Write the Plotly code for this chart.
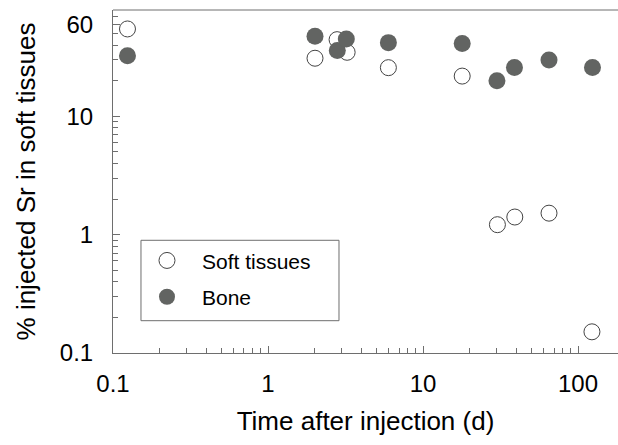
import plotly.graph_objects as go

soft_x = [0.124, 2.01, 2.79, 3.24, 5.98, 17.9, 30.2, 39.1, 65, 123]
soft_y = [54.8, 31, 44.5, 34.8, 25.8, 21.9, 1.215, 1.41, 1.52, 0.151]
bone_x = [0.124, 2.01, 2.8, 3.2, 5.98, 17.9, 30.0, 38.9, 65, 124]
bone_y = [32.6, 47.5, 36.1, 45.1, 42, 41.2, 20, 25.9, 30, 25.9]

x_major = [0.1, 1, 10, 100]
x_major_text = ["0.1", "1", "10", "100"]
y_major = [0.1, 1, 10, 60]
y_major_text = ["0.1", "1", "10", "60"]
x_minor = [m * d for d in [0.1, 1, 10, 100] for m in range(2, 10)]
y_minor = [m * d for d in [0.1, 1, 10] for m in range(2, 10) if m * d < 75]

FONT = "Liberation Sans, Arial, sans-serif"
AX = "#6e6e6e"

fig = go.Figure()
fig.add_trace(go.Scatter(
    x=soft_x, y=soft_y, mode="markers", name="Soft tissues", legendgroup="a",
    marker=dict(symbol="circle", size=16, color="white",
                line=dict(color="#444444", width=1)),
))
fig.add_trace(go.Scatter(
    x=bone_x, y=bone_y, mode="markers", name="Bone", legendgroup="b",
    marker=dict(symbol="circle", size=17, color="#626462",
                line=dict(color="#626462", width=0)),
))

fig.update_layout(
    width=618, height=445,
    margin=dict(l=113, r=0, t=10, b=92),
    plot_bgcolor="white", paper_bgcolor="white",
    font=dict(family=FONT, size=24, color="black"),
    showlegend=True,
    legend=dict(x=0.0376, y=0.3286, xanchor="left", yanchor="top",
                borderwidth=0, bgcolor="rgba(0,0,0,0)",
                font=dict(size=21), itemsizing="trace",
                itemwidth=60, tracegroupgap=6),
)
fig.update_xaxes(
    type="log", range=[-1, 2.258], automargin=False,
    showgrid=False, zeroline=False,
    showline=True, linecolor=AX, linewidth=1, mirror=False,
    ticks="inside", ticklen=7, tickcolor=AX, tickwidth=1,
    tickvals=x_major, ticktext=x_major_text,
    minor=dict(tickvals=x_minor, ticks="inside", ticklen=5, tickcolor=AX, showgrid=False),
    ticklabelstandoff=9,
    title=dict(text="Time after injection (d)", standoff=16, font=dict(size=26)),
)
fig.update_yaxes(
    type="log", range=[-1, 1.899], automargin=False,
    showgrid=False, zeroline=False,
    showline=True, linecolor=AX, linewidth=1,
    ticks="inside", ticklen=7, tickcolor=AX, tickwidth=1,
    tickvals=y_major, ticktext=y_major_text,
    minor=dict(tickvals=y_minor, ticks="inside", ticklen=5, tickcolor=AX, showgrid=False),
    ticklabelstandoff=14,
    title=dict(text="% injected Sr in soft tissues", standoff=16, font=dict(size=26)),
)
# top border line
fig.add_shape(type="line", xref="paper", yref="paper", x0=0, x1=1, y0=1, y1=1,
              line=dict(color=AX, width=1))
# legend frame
fig.add_shape(type="rect", xref="paper", yref="paper",
              x0=0.0554, x1=0.4475, y0=0.0942, y1=0.3286,
              line=dict(color=AX, width=1), fillcolor="white", layer="below")

fig.write_html("out.html", config={"displayModeBar": False},
               post_script="document.body.style.margin='0';")
